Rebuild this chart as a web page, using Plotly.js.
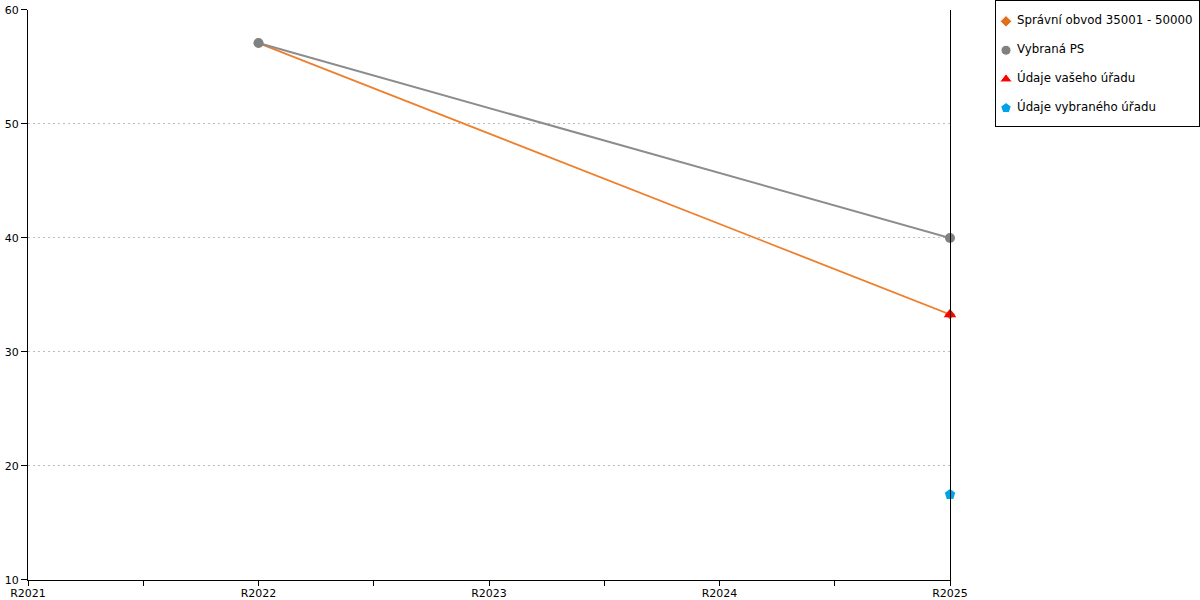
<!DOCTYPE html>
<html>
<head>
<meta charset="utf-8">
<script src="https://cdn.plot.ly/plotly-3.0.1.min.js"></script>
<style>html,body{margin:0;padding:0;background:#fff;}#chart{width:1200px;height:600px;}</style>
</head>
<body>
<div id="chart"></div>
<script>
var categories = ["R2021", "R2022", "R2023", "R2024", "R2025"];

var seriesNames = ["Správní obvod 35001 - 50000", "Vybraná PS", "Údaje vašeho úřadu", "Údaje vybraného úřadu"];
var seriesColors = ["#E0701E", "#808080", "#FF0000", "#00A2E8"];
var seriesSymbols = ["diamond", "circle", "triangle-up", "pentagon"];

var obvodX = ["R2022", "R2025"];
var obvodY = [57.1, 33.3];

var psX = ["R2022", "R2025"];
var psY = [57.1, 40.0];

var vasX = ["R2025"];
var vasY = [33.3];

var vybX = ["R2025"];
var vybY = [17.5];

var yTicks = [10, 20, 30, 40, 50, 60];

function idx(arr) { return arr.map(function (c) { return categories.indexOf(c); }); }

var traces = [
  {
    name: seriesNames[0], x: idx(obvodX), y: obvodY, mode: "lines", cliponaxis: false,
    line: {color: "#EE7F2D", width: 1.8}
  },
  {
    name: seriesNames[0], x: idx(obvodX), y: obvodY, mode: "markers", cliponaxis: false,
    marker: {symbol: seriesSymbols[0], size: 8, color: seriesColors[0], opacity: 1}
  },
  {
    name: seriesNames[1], x: idx(psX), y: psY, mode: "lines", cliponaxis: false,
    line: {color: "#8C8C8C", width: 2}
  },
  {
    name: seriesNames[1], x: idx(psX), y: psY, mode: "markers", cliponaxis: false,
    marker: {symbol: seriesSymbols[1], size: 10, color: seriesColors[1], opacity: 1}
  },
  {
    name: seriesNames[2], x: idx(vasX), y: vasY, mode: "markers", cliponaxis: false,
    marker: {symbol: seriesSymbols[2], size: 11, color: seriesColors[2], opacity: 1}
  },
  {
    name: seriesNames[3], x: idx(vybX), y: vybY, mode: "markers", cliponaxis: false,
    marker: {symbol: seriesSymbols[3], size: 11, color: seriesColors[3], opacity: 1}
  },
  {
    /* legend panel symbols, drawn from the series colours/symbols */
    name: "legend symbols", xaxis: "x2", yaxis: "y2", mode: "markers", cliponaxis: false,
    x: seriesNames.map(function () { return 0; }),
    y: seriesNames.map(function (n, i) { return i; }),
    marker: {symbol: seriesSymbols, color: seriesColors, size: [9, 10, 11, 11], opacity: 1},
    hoverinfo: "skip"
  },
  {
    /* legend panel labels */
    name: "legend labels", xaxis: "x2", yaxis: "y2", mode: "text", cliponaxis: false,
    x: seriesNames.map(function () { return 11; }),
    y: seriesNames.map(function (n, i) { return i; }),
    text: seriesNames, textposition: "middle right",
    textfont: {size: 11.8, family: "DejaVu Sans, Verdana, sans-serif", color: "#000"},
    hoverinfo: "skip"
  }
];

var layout = {
  width: 1200, height: 600,
  margin: {l: 28, r: 0, t: 0, b: 20, pad: 0},
  paper_bgcolor: "#fff", plot_bgcolor: "rgba(0,0,0,0)",
  font: {family: "DejaVu Sans, Verdana, sans-serif", size: 11, color: "#000"},
  showlegend: false,
  xaxis: {
    type: "linear", range: [0, 4], domain: [0, 0.78669],
    tickvals: categories.map(function (c, i) { return i; }),
    ticktext: categories,
    showgrid: false, zeroline: false,
    showline: true, linecolor: "#000", linewidth: 1,
    ticks: "outside", ticklen: 5, tickcolor: "#000",
    ticklabelstandoff: -2,
    minor: {dtick: 0.5, tick0: 0, ticks: "outside", ticklen: 5, tickcolor: "#000", showgrid: false},
    tickfont: {size: 11}
  },
  yaxis: {
    range: [10, 60], tickvals: yTicks, domain: [0, 0.98276],
    showgrid: true, gridcolor: "#bdbdbd", griddash: "2px,3px", gridwidth: 1,
    zeroline: false,
    showline: true, linecolor: "#000", linewidth: 1, mirror: true,
    ticks: "outside", ticklen: 6, tickcolor: "#000",
    tickfont: {size: 11}
  },
  xaxis2: {
    anchor: "y2", domain: [0.82594, 0.99915], range: [-10, 193],
    showgrid: false, zeroline: false, showticklabels: false, ticks: "",
    showline: true, mirror: true, linecolor: "#000", linewidth: 1
  },
  yaxis2: {
    anchor: "x2", domain: [0.7827, 0.9991], range: [3.62, -0.72],
    showgrid: false, zeroline: false, showticklabels: false, ticks: "",
    showline: true, mirror: true, linecolor: "#000", linewidth: 1
  }
};

Plotly.newPlot("chart", traces, layout, {displayModeBar: false, staticPlot: true});
</script>
</body>
</html>
